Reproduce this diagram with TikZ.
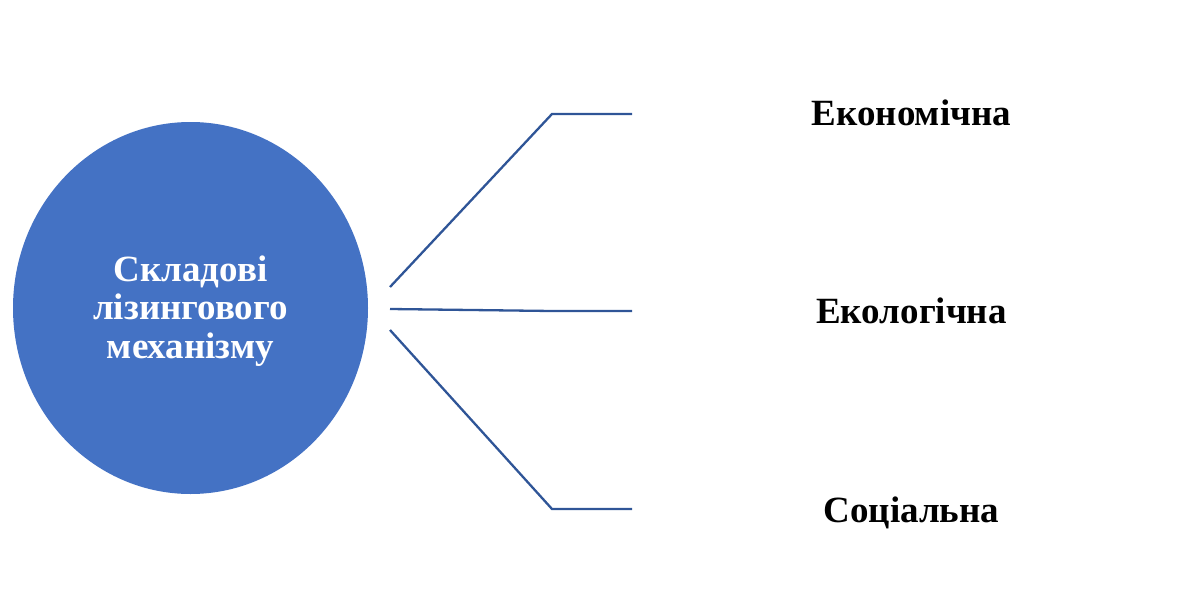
\documentclass[tikz,border=0pt]{standalone}
\usepackage{fontspec}
\setmainfont{Liberation Serif}
\usetikzlibrary{shapes.geometric}
\definecolor{circblue}{HTML}{4472C4}
\definecolor{linkblue}{HTML}{2F5597}
\begin{document}
\begin{tikzpicture}[x=1pt,y=-1pt,
  hub/.style={ellipse,fill=circblue,draw=none,minimum width=355pt,minimum height=372pt,inner sep=0pt},
  hubtxt/.style={anchor=base,text=white,font=\bfseries\fontsize{37}{38.5}\selectfont,align=center,inner sep=0pt},
  lbl/.style={anchor=base,font=\bfseries\fontsize{37}{38.5}\selectfont,text=black,inner sep=0pt},
  link/.style={draw=linkblue,line width=2.3pt,line join=miter}]
\useasboundingbox (0,0) rectangle (1181,602);
\node[hub] (hub) at (190.5,308) {};
\node[hubtxt] (hubtext) at (190.5,358) {Складові\\лізингового\\механізму};
\coordinate (s1) at (390,287);
\coordinate (s2) at (390,309);
\coordinate (s3) at (390,330);
\coordinate (k1) at (552,114);
\coordinate (k2) at (552,311);
\coordinate (k3) at (552,509);
\coordinate (e1) at (632,114);
\coordinate (e2) at (632,311);
\coordinate (e3) at (632,509);
\node[lbl] (l1) at (911.5,125) {Економічна};
\node[lbl] (l2) at (911.5,323) {Екологічна};
\node[lbl] (l3) at (911.5,522) {Соціальна};
\draw[link] (s1) -- (k1) -- (e1);
\draw[link] (s2) -- (k2) -- (e2);
\draw[link] (s3) -- (k3) -- (e3);
\end{tikzpicture}
\end{document}
